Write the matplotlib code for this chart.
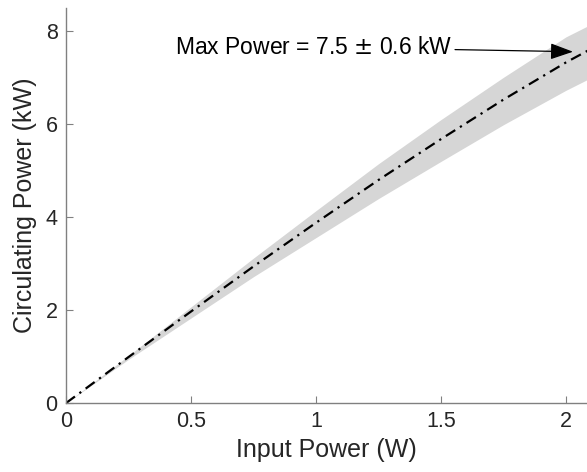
import numpy as np
import matplotlib
matplotlib.use('Agg')
import matplotlib.pyplot as plt

plt.rcParams['font.family'] = ['Liberation Sans', 'DejaVu Sans']

# values
input_power = [0, 0.25, 0.5, 0.75, 1.0, 1.25, 1.5, 1.75, 2.0, 2.1]
circ_power = [0, 0.99, 1.97, 2.94, 3.88, 4.80, 5.68, 6.53, 7.33, 7.62]
circ_upper = [0, 1.02, 2.07, 3.12, 4.14, 5.15, 6.10, 7.01, 7.88, 8.15]
circ_lower = [0, 0.94, 1.83, 2.72, 3.56, 4.40, 5.20, 5.99, 6.73, 7.00]

fig = plt.figure(figsize=(5.87, 4.72), dpi=100)
ax = fig.add_axes([0.1124, 0.146, 0.8876, 0.837])

# uncertainty band
ax.fill_between(input_power, circ_lower, circ_upper, color='#d6d6d6', linewidth=0)
# mean curve
ax.plot(input_power, circ_power, color='black', linewidth=1.6,
        linestyle=(0, (5, 2.5, 1, 2.5)))

ax.set_xlim(0, 2.084)
ax.set_ylim(0, 8.5)
ax.set_xticks([0, 0.5, 1, 1.5, 2])
ax.set_xticklabels(['0', '0.5', '1', '1.5', '2'])
ax.set_yticks([0, 2, 4, 6, 8])

for s in ['top', 'right']:
    ax.spines[s].set_visible(False)
for s in ['left', 'bottom']:
    ax.spines[s].set_color('#808080')
    ax.spines[s].set_linewidth(1.0)
ax.tick_params(direction='in', length=5, width=0.8, color='#808080',
               labelsize=15.5, labelcolor='#262626', pad=6)

ax.set_xlabel('Input Power (W)', fontsize=18, color='#262626', labelpad=4)
ax.set_ylabel('Circulating Power (kW)', fontsize=18, color='#262626', labelpad=6)

ax.annotate('Max Power = 7.5 $\\pm$ 0.6 kW', xy=(2.028, 7.56), xytext=(1.545, 7.66),
            fontsize=16.5, color='black', ha='right', va='center',
            arrowprops=dict(arrowstyle='-|>,head_length=0.7,head_width=0.25',
                            color='black', lw=0.9,
                            mutation_scale=20, shrinkA=0, shrinkB=0))

fig.savefig('out.png', dpi=100)
